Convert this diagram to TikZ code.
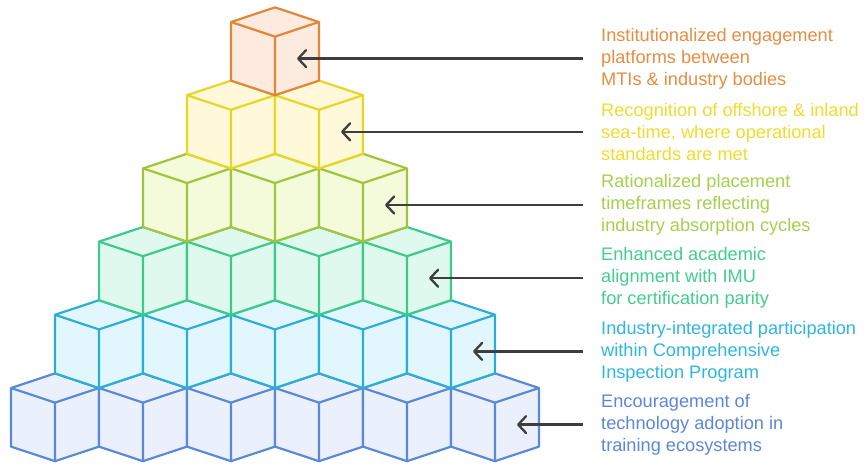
\documentclass[tikz,border=0pt]{standalone}
\usepackage{fontspec}
\setmainfont{Liberation Sans}
\usepackage{tikz}
\usetikzlibrary{calc,arrows.meta}

% stroke and fill colours of the six layers
\definecolor{orgline}{HTML}{E0873A}\definecolor{orgfill}{HTML}{FDEBDF}
\definecolor{yelline}{HTML}{E8D626}\definecolor{yelfill}{HTML}{FFF9D9}
\definecolor{limline}{HTML}{A2C43C}\definecolor{limfill}{HTML}{F4FBDB}
\definecolor{grnline}{HTML}{3EC98C}\definecolor{grnfill}{HTML}{E0F9EF}
\definecolor{cyaline}{HTML}{2AAFD3}\definecolor{cyafill}{HTML}{E2F6FD}
\definecolor{bluline}{HTML}{5A89D8}\definecolor{blufill}{HTML}{EBF1FC}
% text colours
\definecolor{orgtext}{HTML}{E88C40}
\definecolor{yeltext}{HTML}{F0DC2C}
\definecolor{limtext}{HTML}{A6D04A}
\definecolor{grntext}{HTML}{41CE8E}
\definecolor{cyatext}{HTML}{2EB6E3}
\definecolor{blutext}{HTML}{5D86DA}
\definecolor{arrowgray}{HTML}{3E3E3E}

\begin{document}
\begin{tikzpicture}[x=1pt, y=-1pt, line join=round,
  cube/.style={draw=#1line, fill=#1fill, line width=2.2pt},
  pointer/.style={draw=arrowgray, line width=2.3pt, shorten <=18pt,
    -{Straight Barb[length=8pt,width=17pt,round]}},
  note/.style={anchor=west, align=left, inner sep=0pt,
    font=\fontsize{18.2}{22}\selectfont}]

  \useasboundingbox (0,0) rectangle (866,467);

  % --- 1. pyramid of cubes, bottom row first ---
  \foreach \r/\n/\c in {0/6/blu,1/5/cya,2/4/grn,3/3/lim,4/2/yel,5/1/org} {
    \pgfmathsetmacro{\yo}{388-73.2*\r}
    \foreach \i in {1,...,\n} {
      \pgfmathsetmacro{\xo}{11+88*(\i-1)+44*\r}
      \draw[cube=\c] (\xo,\yo) -- ++(44,-14.6) -- ++(44,14.6) -- ++(0,58.6)
        -- ++(-44,14.6) -- ++(-44,-14.6) -- cycle;
      \draw[cube=\c, fill=none] (\xo,\yo) -- ++(44,14.6) -- ++(44,-14.6)
        ++(-44,14.6) -- ++(0,58.6);
    }
    % centre of the right face of the last cube in the row
    \pgfmathsetmacro{\xr}{11+88*(\n-1)+44*\r}
    \coordinate (c\r) at (\xr+66,\yo+36.6);
  }

  % --- 2. labels ---
  \node[note, text=orgtext] (t5) at (601,58.6)
    {Institutionalized engagement\\platforms between\\MTIs \& industry bodies};
  \node[note, text=yeltext] (t4) at (601,131.8)
    {Recognition of offshore \& inland\\sea-time, where operational\\standards are met};
  \node[note, text=limtext] (t3) at (601,205)
    {Rationalized placement\\timeframes reflecting\\industry absorption cycles};
  \node[note, text=grntext] (t2) at (601,278.2)
    {Enhanced academic\\alignment with IMU\\for certification parity};
  \node[note, text=cyatext] (t1) at (601,351.4)
    {Industry-integrated participation\\within Comprehensive\\Inspection Program};
  \node[note, text=blutext] (t0) at (601,424.6)
    {Encouragement of\\technology adoption in\\training ecosystems};

  % --- 3. pointers ---
  \foreach \k in {0,...,5}
    \draw[pointer] (c\k -| t\k.west) -- (c\k);

\end{tikzpicture}
\end{document}
